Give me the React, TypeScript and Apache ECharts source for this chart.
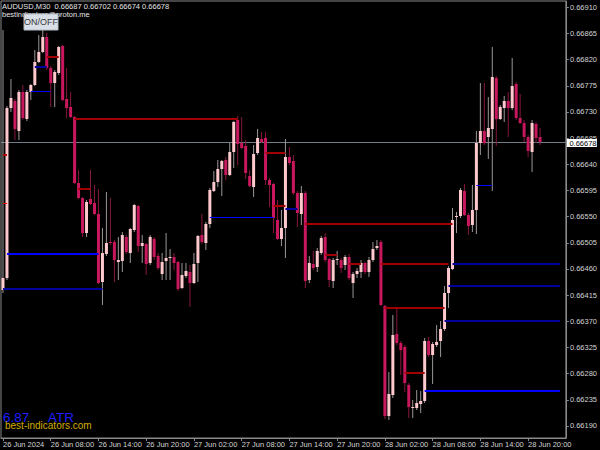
import React, { useEffect, useRef } from "react";
import * as echarts from "echarts";

// ---- labels ----
const symbolTitle = "AUDUSD,M30  0.66687 0.66702 0.66674 0.66678";
const contactLine = "bestindicators@proton.me";
const buttonLabel = "ON/OFF";
const atrValue = "6.87";
const atrName = "ATR";
const siteName = "best-indicators.com";

// time labels, one every 12 bars (6 hours of M30 bars)
const timeLabels = [
  "26 Jun 2024", "26 Jun 08:00", "26 Jun 14:00", "26 Jun 20:00",
  "27 Jun 02:00", "27 Jun 08:00", "27 Jun 14:00", "27 Jun 20:00",
  "28 Jun 02:00", "28 Jun 08:00", "28 Jun 14:00", "28 Jun 20:00",
];
const barsPerLabel = 12;
const slotCount = 142; // bars plus empty space on the right

// price scale labels
const priceTicks = [
  0.6619, 0.66235, 0.6628, 0.66325, 0.6637, 0.66415, 0.6646, 0.66505, 0.6655,
  0.66595, 0.6664, 0.66685, 0.6673, 0.66775, 0.6682, 0.66865, 0.6691,
];

// ---- M30 bars ----
const opens = [
  0.66424, 0.66445, 0.66737, 0.66749, 0.66697, 0.66764, 0.66718, 0.66764, 0.66776, 0.66816,
  0.66833, 0.66859, 0.66806, 0.6678, 0.66797, 0.66843, 0.66752, 0.66739, 0.66721, 0.66608,
  0.66582, 0.66522, 0.6658, 0.66573, 0.66554, 0.66438, 0.66486, 0.66506, 0.66506, 0.66472,
  0.66474, 0.66515, 0.66487, 0.66527, 0.66568, 0.665, 0.66503, 0.6647, 0.66512, 0.66482,
  0.66451, 0.66474, 0.66479, 0.66481, 0.66472, 0.66427, 0.66448, 0.66455, 0.66436, 0.6647,
  0.66518, 0.66505, 0.66537, 0.66594, 0.6661, 0.66632, 0.66647, 0.66622, 0.66661, 0.66716,
  0.66677, 0.66672, 0.6662, 0.66601, 0.66659, 0.66684, 0.66685, 0.66613, 0.66606, 0.66544,
  0.66512, 0.6653, 0.66653, 0.66646, 0.66591, 0.66554, 0.66591, 0.66441, 0.66469, 0.66463,
  0.66487, 0.66515, 0.66477, 0.66439, 0.66475, 0.66475, 0.66467, 0.66481, 0.66436, 0.66451,
  0.66455, 0.6647, 0.66455, 0.66475, 0.66496, 0.66506, 0.66396, 0.66207, 0.66243, 0.66348,
  0.66333, 0.66326, 0.6626, 0.66221, 0.66221, 0.66228, 0.66233, 0.66336, 0.66312, 0.66329,
  0.66336, 0.66357, 0.66419, 0.6646, 0.66549, 0.66551, 0.66594, 0.66553, 0.66536, 0.66561,
  0.66677, 0.66697, 0.66687, 0.66701, 0.66788, 0.66718, 0.66737, 0.66749, 0.66737, 0.66778,
  0.6672, 0.66711, 0.66687, 0.66661, 0.66709, 0.66687,
];
const highs = [
  0.66871, 0.6674, 0.66787, 0.66752, 0.66768, 0.66776, 0.66768, 0.66778, 0.66837, 0.66862,
  0.66871, 0.66866, 0.66809, 0.66802, 0.66843, 0.66845, 0.66806, 0.66764, 0.66723, 0.6663,
  0.66584, 0.66579, 0.6663, 0.66604, 0.66598, 0.6653, 0.66592, 0.66582, 0.6651, 0.66515,
  0.66524, 0.66518, 0.6653, 0.66572, 0.6657, 0.66518, 0.66505, 0.66518, 0.66515, 0.66487,
  0.66487, 0.66522, 0.66494, 0.66487, 0.66474, 0.6647, 0.6647, 0.66467, 0.66487, 0.66518,
  0.66554, 0.66541, 0.66599, 0.66628, 0.66647, 0.66647, 0.66653, 0.66677, 0.66714, 0.66723,
  0.66721, 0.66682, 0.6663, 0.66673, 0.66701, 0.66696, 0.66696, 0.66616, 0.66608, 0.66579,
  0.66561, 0.66684, 0.6667, 0.66656, 0.66594, 0.66603, 0.66594, 0.66482, 0.66491, 0.66496,
  0.66517, 0.66522, 0.66479, 0.66479, 0.66491, 0.66479, 0.66484, 0.66486, 0.66455, 0.66462,
  0.66475, 0.66472, 0.66481, 0.66506, 0.6651, 0.6651, 0.66398, 0.66283, 0.66381, 0.66393,
  0.66336, 0.66329, 0.66264, 0.66235, 0.66252, 0.6625, 0.66341, 0.66343, 0.66335, 0.66364,
  0.66371, 0.66431, 0.66465, 0.66565, 0.66558, 0.66599, 0.66606, 0.66556, 0.66604, 0.66697,
  0.6678, 0.6678, 0.66756, 0.66842, 0.66792, 0.66742, 0.66757, 0.66764, 0.66823, 0.66781,
  0.66761, 0.66716, 0.6669, 0.66716, 0.66713, 0.66702,
];
const lows = [
  0.66419, 0.66441, 0.6673, 0.66682, 0.66682, 0.66716, 0.66714, 0.66751, 0.66775, 0.66814,
  0.66831, 0.66802, 0.66739, 0.66739, 0.66794, 0.66749, 0.6672, 0.6672, 0.66606, 0.6658,
  0.66515, 0.66515, 0.6657, 0.66553, 0.66434, 0.66398, 0.66482, 0.66501, 0.66438, 0.66441,
  0.66455, 0.66486, 0.6647, 0.66524, 0.66489, 0.6647, 0.6645, 0.66467, 0.66475, 0.66458,
  0.66441, 0.66441, 0.66441, 0.66458, 0.66422, 0.66426, 0.66445, 0.66395, 0.66434, 0.66438,
  0.66503, 0.66493, 0.6653, 0.66592, 0.66601, 0.66585, 0.66613, 0.6662, 0.66634, 0.66639,
  0.66666, 0.66615, 0.66601, 0.66584, 0.66656, 0.66677, 0.66604, 0.66567, 0.66522, 0.6651,
  0.665, 0.66479, 0.66639, 0.66587, 0.66532, 0.66536, 0.66427, 0.66436, 0.66458, 0.66455,
  0.66484, 0.66472, 0.66429, 0.66427, 0.66467, 0.66453, 0.66458, 0.66441, 0.6641, 0.66445,
  0.66445, 0.66451, 0.66446, 0.66472, 0.66493, 0.66396, 0.66202, 0.662, 0.66238, 0.66329,
  0.66278, 0.66248, 0.66204, 0.66204, 0.66217, 0.66212, 0.66229, 0.66309, 0.66262, 0.66326,
  0.66309, 0.66353, 0.66393, 0.66458, 0.66522, 0.66548, 0.66551, 0.66518, 0.66524, 0.6652,
  0.66656, 0.66673, 0.66649, 0.66594, 0.66672, 0.66716, 0.66713, 0.66687, 0.66733, 0.66716,
  0.66709, 0.66678, 0.66653, 0.66627, 0.66677, 0.66674,
];
const closes = [
  0.66445, 0.66737, 0.66754, 0.66701, 0.66764, 0.6672, 0.66764, 0.66776, 0.66816, 0.66833,
  0.66859, 0.66806, 0.6678, 0.66799, 0.66842, 0.66751, 0.66737, 0.66721, 0.66608, 0.66582,
  0.66522, 0.66575, 0.66572, 0.66554, 0.66436, 0.66487, 0.66505, 0.66505, 0.66475, 0.66475,
  0.66518, 0.66489, 0.66529, 0.6657, 0.665, 0.66505, 0.66469, 0.66515, 0.66481, 0.66462,
  0.66472, 0.66479, 0.66481, 0.6647, 0.66426, 0.6645, 0.66457, 0.66436, 0.66469, 0.66517,
  0.66506, 0.66537, 0.66596, 0.6661, 0.66632, 0.66646, 0.66622, 0.66661, 0.66713, 0.66675,
  0.66668, 0.66625, 0.66603, 0.66658, 0.66685, 0.66678, 0.66613, 0.66604, 0.66548, 0.66512,
  0.6653, 0.66653, 0.66642, 0.66591, 0.66556, 0.66591, 0.66439, 0.6647, 0.66462, 0.66491,
  0.66513, 0.66475, 0.66441, 0.66475, 0.66477, 0.66462, 0.66481, 0.66445, 0.66451, 0.66457,
  0.6647, 0.66455, 0.66475, 0.66494, 0.665, 0.66398, 0.66207, 0.66245, 0.66347, 0.66333,
  0.66321, 0.66264, 0.66223, 0.66223, 0.66229, 0.66233, 0.66336, 0.66312, 0.66331, 0.66335,
  0.66357, 0.66419, 0.66462, 0.66544, 0.66551, 0.66596, 0.66553, 0.66534, 0.66561, 0.66677,
  0.66697, 0.66677, 0.66702, 0.6679, 0.66718, 0.66739, 0.66749, 0.66737, 0.66775, 0.6672,
  0.66711, 0.66687, 0.66663, 0.66711, 0.66685, 0.66678,
];

// ---- indicator levels (price, first bar, last bar, kind) ----
const levelPrices = [
  0.66825, 0.66718, 0.66598, 0.66659, 0.66568, 0.66537, 0.66484, 0.66469, 0.66469, 0.66393,
  0.66281, 0.66656, 0.66572, 0.66807, 0.66766, 0.66486, 0.66426, 0.66549, 0.66563, 0.66604,
  0.66469, 0.66431, 0.66371, 0.6625,
];
const levelFrom = [11, 18, 19, 66, 68, 76, 81, 87, 95, 96, 101, 0, 0, 8, 7, 1, 0, 52, 71, 119, 113, 112, 111, 106];
const levelTo = [14, 59, 22, 71, 71, 113, 84, 90, 112, 111, 106, 1, 1, 11, 12, 24, 25, 68, 74, 123, 140, 140, 140, 140];
const levelKind = [
  "high", "high", "high", "high", "high", "high", "high", "high", "high", "high",
  "high", "mark", "tick", "low", "lowThin", "lowBright", "low", "lowThin", "low", "lowThin",
  "low", "low", "low", "lowBright",
];

const levelStyles: Record<string, { color: string; width: number }> = {
  high: { color: "#A20000", width: 2 },
  mark: { color: "#B00000", width: 2 },
  tick: { color: "#FF0000", width: 1 },
  low: { color: "#00009E", width: 2 },
  lowBright: { color: "#0000FF", width: 2 },
  lowThin: { color: "#0000FF", width: 1 },
};

const BULL_BODY = "#FFC9CE";
const BEAR_BODY = "#C8175C";
const BULL_WICK = "#9C9696";
const BEAR_WICK = "#86173F";
const FRAME = "#8A8A8A";
const SCALE_TEXT = "#D4D4D4";
const NARROW = "'Liberation Sans Narrow', 'Liberation Sans', Arial, sans-serif";
const REGULAR = "'Liberation Sans', Arial, sans-serif";

export default function App() {
  const ref = useRef<HTMLDivElement>(null);

  useEffect(() => {
    document.body.style.margin = "0";
    document.body.style.background = "#000";
    const chart = echarts.init(ref.current as HTMLDivElement, null, { renderer: "svg" });

    const categories = Array.from({ length: slotCount }, (_, i) => String(i));
    const bars = opens.map((o, i) => [i, o, highs[i], lows[i], closes[i]]);
    const levels = levelPrices.map((p, i) => [levelFrom[i], levelTo[i], p]);
    const last = closes[closes.length - 1];

    const crisp = (y: number, w: number) => (w % 2 === 1 ? Math.round(y - 0.5) + 0.5 : Math.round(y));

    chart.setOption({
      animation: false,
      backgroundColor: "#000000",
      grid: {
        left: -0.5,
        top: 1,
        width: 568,
        height: 437,
        show: true,
        borderColor: FRAME,
        borderWidth: 1,
        backgroundColor: "transparent",
      },
      xAxis: {
        type: "category",
        data: categories,
        boundaryGap: true,
        axisLine: { show: true, lineStyle: { color: FRAME } },
        axisTick: {
          show: true,
          alignWithLabel: true,
          length: 3,
          interval: (i: number) => i % barsPerLabel === 0,
          lineStyle: { color: FRAME },
        },
        axisLabel: {
          interval: (i: number) => i % barsPerLabel === 0,
          formatter: (_v: string, i: number) => timeLabels[i / barsPerLabel] ?? "",
          color: SCALE_TEXT,
          fontSize: 7.5,
          fontFamily: NARROW,
          align: "left",
          margin: 2,
        },
        splitLine: { show: false },
      },
      yAxis: {
        type: "value",
        position: "right",
        min: 0.6616932,
        max: 0.6692083,
        axisLine: { show: true, lineStyle: { color: FRAME } },
        axisTick: { show: true, length: 3, customValues: priceTicks, lineStyle: { color: FRAME } },
        axisLabel: {
          customValues: priceTicks,
          formatter: (v: number) => v.toFixed(5),
          color: SCALE_TEXT,
          fontSize: 7.5,
          fontFamily: NARROW,
          margin: 4,
        },
        splitLine: { show: false },
      },
      series: [
        {
          // bid line across the chart
          type: "custom",
          z: 1,
          clip: false,
          data: [[0, last]],
          encode: { x: 0, y: 1 },
          renderItem: (params: any, api: any) => {
            const cs = params.coordSys;
            const y = crisp(api.coord([0, api.value(1)])[1], 1);
            return {
              type: "line",
              shape: { x1: cs.x, y1: y, x2: cs.x + cs.width, y2: y },
              style: { stroke: "#6F7D8C", lineWidth: 1 },
            };
          },
        },
        {
          type: "custom",
          z: 2,
          data: bars,
          encode: { x: 0, y: [1, 2, 3, 4] },
          renderItem: (_params: any, api: any) => {
            const i = api.value(0);
            const o = api.value(1);
            const h = api.value(2);
            const l = api.value(3);
            const c = api.value(4);
            const pO = api.coord([i, o]);
            const pC = api.coord([i, c]);
            const pH = api.coord([i, h]);
            const pL = api.coord([i, l]);
            const x = pO[0];
            const up = c >= o;
            const top = Math.round(Math.min(pO[1], pC[1]));
            const bot = Math.round(Math.max(pO[1], pC[1]));
            return {
              type: "group",
              children: [
                {
                  type: "line",
                  shape: { x1: x, y1: Math.round(pH[1]), x2: x, y2: Math.round(pL[1]) },
                  style: { stroke: up ? BULL_WICK : BEAR_WICK, lineWidth: 1 },
                },
                {
                  type: "rect",
                  shape: { x: x - 1.5, y: top, width: 3, height: Math.max(bot - top, 1) },
                  style: { fill: up ? BULL_BODY : BEAR_BODY },
                },
              ],
            };
          },
        },
        {
          type: "custom",
          z: 3,
          data: levels,
          encode: { x: [0, 1], y: 2 },
          renderItem: (params: any, api: any) => {
            const st = levelStyles[levelKind[params.dataIndex]];
            const a = api.coord([api.value(0), api.value(2)]);
            const b = api.coord([api.value(1), api.value(2)]);
            const y = crisp(a[1], st.width);
            return {
              type: "line",
              shape: { x1: a[0], y1: y, x2: b[0], y2: y },
              style: { stroke: st.color, lineWidth: st.width },
            };
          },
        },
        {
          // last price box on the price scale
          type: "custom",
          z: 20,
          clip: false,
          data: [[0, last]],
          encode: { x: 0, y: 1 },
          renderItem: (params: any, api: any) => {
            const cs = params.coordSys;
            const y = Math.round(api.coord([0, api.value(1)])[1]);
            const x0 = cs.x + cs.width + 1;
            return {
              type: "group",
              children: [
                {
                  type: "rect",
                  shape: { x: x0, y: y - 3, width: 30, height: 8 },
                  style: { fill: "#FFFFFF" },
                },
                {
                  type: "text",
                  style: {
                    text: api.value(1).toFixed(5),
                    x: x0 + 2.5,
                    y: y + 1,
                    fill: "#000000",
                    fontSize: 7.5,
                    fontFamily: NARROW,
                    verticalAlign: "middle",
                    align: "left",
                  },
                },
              ],
            };
          },
        },
      ],
      graphic: [
        {
          type: "text",
          x: 2,
          y: 2,
          z: 50,
          style: { text: symbolTitle, fill: "#E6E6E6", fontSize: 7.5, fontFamily: NARROW },
        },
        {
          type: "text",
          x: 2,
          y: 10,
          z: 50,
          style: { text: contactLine, fill: "#E6E6E6", fontSize: 7.5, fontFamily: NARROW },
        },
        {
          type: "rect",
          x: 24,
          y: 14,
          z: 51,
          shape: { width: 34, height: 16 },
          style: { fill: "#D9DFE7", stroke: "#B4BCC6", lineWidth: 1 },
        },
        {
          type: "text",
          x: 41,
          y: 22,
          z: 52,
          style: {
            text: buttonLabel,
            fill: "#3A3A3A",
            fontSize: 9,
            fontFamily: NARROW,
            align: "center",
            verticalAlign: "middle",
          },
        },
        {
          type: "text",
          x: 3,
          y: 410,
          z: 50,
          style: { text: atrValue, fill: "#1E1EFF", fontSize: 13.5, fontFamily: REGULAR },
        },
        {
          type: "text",
          x: 48,
          y: 410,
          z: 50,
          style: { text: atrName, fill: "#1E1EFF", fontSize: 13.5, fontFamily: REGULAR },
        },
        {
          type: "text",
          x: 5,
          y: 420,
          z: 51,
          style: { text: siteName, fill: "#D2AC00", fontSize: 10, fontFamily: REGULAR },
        },
      ],
    });

    return () => chart.dispose();
  }, []);

  return <div ref={ref} style={{ width: 600, height: 450 }} />;
}
